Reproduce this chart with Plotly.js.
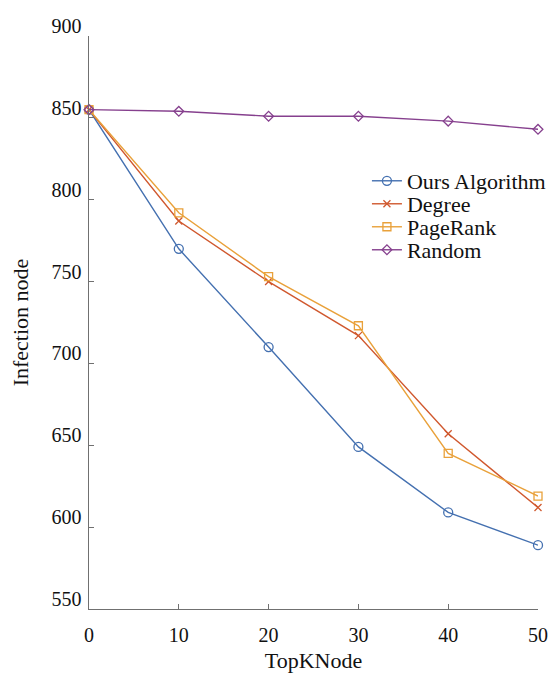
<!DOCTYPE html>
<html>
<head>
<meta charset="utf-8">
<script src="https://cdn.plot.ly/plotly-3.0.1.min.js"></script>
<style>
  html, body { margin: 0; padding: 0; background: #fff; }
  #chart { width: 552px; height: 673px; }
</style>
</head>
<body>
<div id="chart"></div>
<script>
// Number of top-K seed nodes removed
const topK = [0, 10, 20, 30, 40, 50];

// Infected node counts per method
const oursAlgorithm = [855, 770, 710, 649, 609, 589];
const degree        = [855, 787, 750, 717, 657, 612];
const pageRank      = [855, 792, 753, 723, 645, 619];
const randomPick    = [855, 854, 851, 851, 848, 843];

const seriesNames = ['Ours Algorithm', 'Degree', 'PageRank', 'Random'];
const xTicks = [0, 10, 20, 30, 40, 50];
const yTicks = [550, 600, 650, 700, 750, 800, 850, 900];

const serif = "'Liberation Serif', 'Times New Roman', serif";

function series(y, name, color, symbol, size, legendId) {
  return {
    x: topK, y: y, name: name, type: 'scatter', mode: 'lines+markers',
    line: { color: color, width: 1.4 },
    marker: { symbol: symbol, size: size, color: color,
              line: { color: color, width: 1.3 } },
    cliponaxis: false,
    legend: legendId
  };
}

const traces = [
  series(oursAlgorithm, seriesNames[0], '#4470b0', 'circle-open', 9, 'legend'),
  series(degree,        seriesNames[1], '#d0582e', 'x-thin-open', 7, 'legend2'),
  series(pageRank,      seriesNames[2], '#e9a13a', 'square-open', 8, 'legend3'),
  series(randomPick,    seriesNames[3], '#86408e', 'diamond-open', 7.5, 'legend4')
];

function legendBox(y) {
  return {
    x: 0.619, y: y, xanchor: 'left', yanchor: 'middle',
    bgcolor: 'rgba(0,0,0,0)', borderwidth: 0,
    font: { family: serif, size: 22, color: '#111' },
    itemwidth: 30
  };
}

function axisBase() {
  return {
    showline: true, linecolor: '#707070', linewidth: 1.4,
    ticks: 'inside', ticklen: 5, tickwidth: 1.2, tickcolor: '#707070',
    showgrid: false, zeroline: false, automargin: false, mirror: false,
    tickfont: { family: serif, size: 20, color: '#111' }
  };
}

// plot area runs to the bottom edge; the y domain lifts the x axis off it
const layout = {
  width: 552, height: 673,
  margin: { l: 89, r: 14, t: 36, b: 0, autoexpand: false },
  paper_bgcolor: '#fff', plot_bgcolor: '#fff',
  showlegend: true,
  legend:  legendBox(0.7724),
  legend2: legendBox(0.7363),
  legend3: legendBox(0.7002),
  legend4: legendBox(0.6641),
  xaxis: Object.assign(axisBase(), {
    automargin: true,
    range: [0, 50], tickvals: xTicks, ticktext: xTicks.map(String),
    ticklabelstandoff: 8,
    title: { text: 'TopKNode', font: { family: serif, size: 22, color: '#111' }, standoff: 12 }
  }),
  yaxis: Object.assign(axisBase(), {
    domain: [64 / 637, 1],
    range: [550, 900], tickvals: yTicks, ticktext: yTicks.map(String),
    ticklabelshift: -10, ticklabelstandoff: 2,
    title: { text: 'Infection node', font: { family: serif, size: 22, color: '#111' }, standoff: 17 }
  })
};

Plotly.newPlot('chart', traces, layout, { displayModeBar: false, staticPlot: true });
</script>
</body>
</html>
